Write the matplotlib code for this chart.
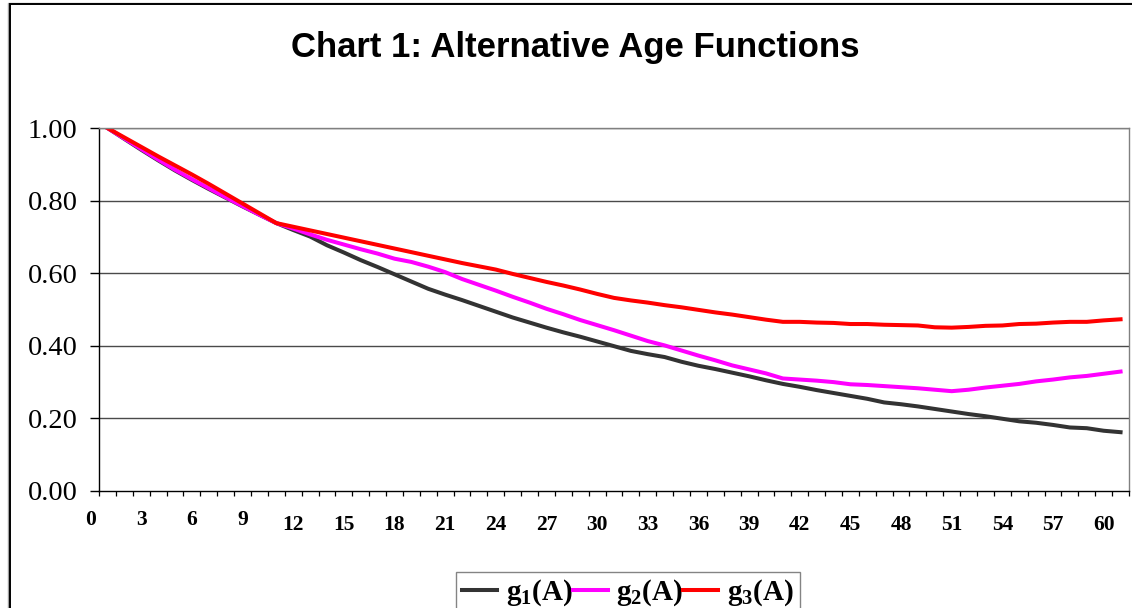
import matplotlib
matplotlib.use("Agg")
import matplotlib.pyplot as plt
from matplotlib.patches import Rectangle
from matplotlib.transforms import blended_transform_factory

plt.rcParams['mathtext.fontset'] = 'custom'
plt.rcParams['mathtext.rm'] = 'Liberation Serif:bold'
plt.rcParams['mathtext.it'] = 'Liberation Serif:bold'
plt.rcParams['mathtext.bf'] = 'Liberation Serif:bold'

title = "Chart 1: Alternative Age Functions"
ages = list(range(1, 62))
g1 = [1.000, 0.970, 0.940, 0.911, 0.883, 0.857, 0.832, 0.808, 0.784, 0.761,
      0.738, 0.719, 0.701, 0.677, 0.657, 0.636, 0.617, 0.597, 0.577, 0.557,
      0.541, 0.526, 0.510, 0.494, 0.478, 0.464, 0.450, 0.437, 0.425, 0.412,
      0.399, 0.386, 0.377, 0.369, 0.356, 0.345, 0.336, 0.326, 0.316, 0.305,
      0.295, 0.287, 0.278, 0.270, 0.262, 0.254, 0.244, 0.239, 0.233, 0.226,
      0.219, 0.212, 0.206, 0.199, 0.192, 0.188, 0.182, 0.175, 0.173, 0.166,
      0.162]
g2 = [1.000, 0.971, 0.942, 0.913, 0.885, 0.859, 0.834, 0.809, 0.785, 0.761,
      0.738, 0.723, 0.707, 0.692, 0.679, 0.666, 0.654, 0.640, 0.631, 0.618,
      0.603, 0.584, 0.568, 0.552, 0.535, 0.519, 0.502, 0.487, 0.471, 0.457,
      0.443, 0.428, 0.413, 0.401, 0.387, 0.373, 0.360, 0.346, 0.335, 0.324,
      0.310, 0.307, 0.304, 0.300, 0.294, 0.292, 0.289, 0.286, 0.283, 0.279,
      0.275, 0.279, 0.285, 0.290, 0.295, 0.302, 0.307, 0.313, 0.317, 0.323,
      0.329]
g3 = [1.000, 0.974, 0.948, 0.922, 0.897, 0.872, 0.846, 0.819, 0.792, 0.765,
      0.738, 0.728, 0.718, 0.708, 0.698, 0.688, 0.678, 0.668, 0.658, 0.648,
      0.638, 0.628, 0.619, 0.610, 0.598, 0.587, 0.576, 0.566, 0.555, 0.543,
      0.532, 0.525, 0.519, 0.512, 0.506, 0.499, 0.492, 0.486, 0.479, 0.472,
      0.466, 0.466, 0.464, 0.463, 0.460, 0.460, 0.458, 0.457, 0.456, 0.451,
      0.450, 0.452, 0.455, 0.456, 0.460, 0.461, 0.464, 0.466, 0.466, 0.470,
      0.473]
series_labels = [r"$\mathrm{g_1(A)}$", r"$\mathrm{g_2(A)}$", r"$\mathrm{g_3(A)}$"]
series_colors = ["#333333", "#FF00FF", "#FF0000"]
x_labels = list(range(0, 61, 3))
y_ticks = [0.0, 0.2, 0.4, 0.6, 0.8, 1.0]

W, H = 1132, 608
fig = plt.figure(figsize=(W / 100, H / 100), dpi=100)
ax = fig.add_axes([99 / W, 1 - 491 / H, 1030 / W, 363 / H])

lines = []
for vals, lab, col in zip([g1, g2, g3], series_labels, series_colors):
    ln, = ax.plot(ages, vals, color=col, lw=2.9, label=lab, solid_joinstyle='round')
    lines.append(ln)

ax.set_xlim(0.5, 61.5)
ax.set_ylim(0, 1.0)
ax.set_yticks(y_ticks)
ax.set_yticklabels([f"{v:.2f}" for v in y_ticks], fontfamily="Liberation Serif", fontsize=20.5)
ax.tick_params(axis='y', direction='out', length=6.5, width=1, pad=9, colors='black')
ax.set_xticks([0.5 + k for k in range(62)])
ax.set_xticklabels([])
ax.tick_params(axis='x', direction='out', length=3.8, width=0.9, colors='black')
for v in y_ticks[1:]:
    ax.axhline(v, color='#4a4a4a', lw=1.0, zorder=0.5)

trans = blended_transform_factory(ax.transData, ax.transAxes)
for lab in x_labels:
    off = -21 if lab < 10 else -24.5
    ax.annotate(str(lab), xy=(lab, 0), xycoords=trans, xytext=(0, off),
                textcoords='offset points', ha='center', va='center',
                fontfamily="Liberation Serif", fontweight='bold', fontsize=15.5,
                annotation_clip=False)

ax.spines['left'].set_color('black')
ax.spines['bottom'].set_color('black')
ax.spines['right'].set_color('#808080')
ax.spines['top'].set_color('#808080')
for s in ax.spines.values():
    s.set_linewidth(1.0)

fig.text(575 / W, 1 - 48 / H, title, ha='center', va='center',
         fontfamily="Liberation Sans", fontweight='bold', fontsize=25)

# chart area border (extends beyond the visible image)
fig.add_artist(Rectangle((8 / W, -0.1), 1.2, (1 - 3 / H) + 0.1, transform=fig.transFigure,
                         fill=False, edgecolor='#a0a0a0', lw=1.0))
fig.add_artist(Rectangle((9.5 / W, -0.1), 1.2, (1 - 4.5 / H) + 0.1, transform=fig.transFigure,
                         fill=False, edgecolor='black', lw=1.4))

leg = fig.legend(handles=lines, labels=series_labels, ncol=3,
                 loc='upper center', bbox_to_anchor=(628 / W, 1 - 572 / H),
                 frameon=True, fancybox=False, edgecolor='#666666',
                 fontsize=21, handlelength=1.2, handletextpad=0.3,
                 columnspacing=0.0, borderpad=0.2, borderaxespad=0)
leg.get_frame().set_linewidth(1.0)

fig.savefig("out.png", dpi=100)
